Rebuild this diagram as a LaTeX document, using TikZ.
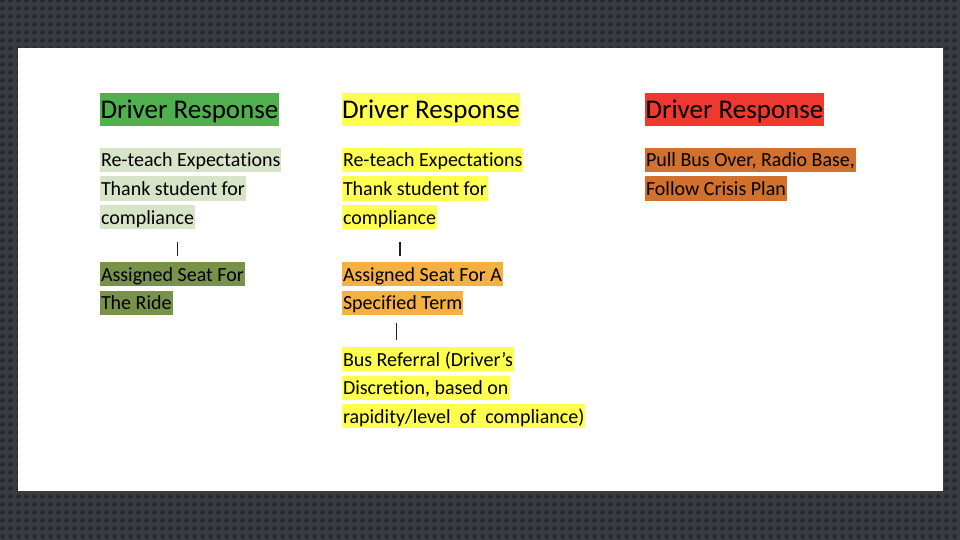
\documentclass[tikz,border=0pt]{standalone}
\usepackage{fontspec}
\setmainfont{Carlito}[Ligatures=NoCommon]
\usetikzlibrary{patterns.meta}
\definecolor{bgdark}{HTML}{383B40}
\definecolor{bgdot}{HTML}{26282C}
\definecolor{tgreen}{HTML}{50B050}
\definecolor{lgreen}{HTML}{D8E4C8}
\definecolor{olive}{HTML}{78924A}
\definecolor{hyellow}{HTML}{FFFF50}
\definecolor{horange}{HTML}{F4B040}
\definecolor{hred}{HTML}{EE3830}
\definecolor{hbrown}{HTML}{D2702E}
\definecolor{sepgray}{HTML}{222222}
\tikzdeclarepattern{
  name=bgdots,
  type=uncolored,
  bounding box={(0pt,0pt) and (8pt,8pt)},
  tile size={(8pt,8pt)},
  code={\fill (4pt,4pt) circle (2.4pt);}
}
\tikzset{
  titlebox/.style={anchor=base west, inner xsep=0.5pt, inner ysep=0pt, outer sep=0pt,
    text height=25.2pt, text depth=7.8pt, font=\fontsize{27}{32}\selectfont, text=black},
  bodybox/.style={anchor=base west, inner xsep=1pt, inner ysep=0pt, outer sep=0pt,
    text height=19pt, text depth=5.4pt, font=\fontsize{20}{24}\selectfont, text=black},
  sepline/.style={draw=sepgray, line width=1.5pt}
}
\begin{document}
\begin{tikzpicture}[x=1pt,y=-1pt]
\useasboundingbox (0,0) rectangle (960,540);
% textured background
\fill[bgdark] (0,0) rectangle (960,540);
\fill[pattern=bgdots, pattern color=bgdot] (0,0) rectangle (960,540);
% slide
\fill[white] (18,48) rectangle (943,491);

% green column
\node[titlebox, fill=tgreen] (gt) at (100,118.5) {Driver Response};
\node[bodybox, fill=lgreen] (g1) at (100,167) {Re-teach Expectations};
\node[bodybox, fill=lgreen] (g2) at (100,195.5) {Thank student for};
\node[bodybox, fill=lgreen] (g3) at (100,224) {compliance};
\node[bodybox, fill=olive] (g4) at (100,281) {Assigned Seat For};
\node[bodybox, fill=olive] (g5) at (100,309.5) {The Ride};
\coordinate (gsa) at (177.7,241.5);
\coordinate (gsb) at (177.7,256);
\draw[sepline] (gsa) -- (gsb);

% yellow column
\node[titlebox, fill=hyellow] (yt) at (341.5,118.5) {Driver Response};
\node[bodybox, fill=hyellow] (y1) at (342,167) {Re-teach Expectations};
\node[bodybox, fill=hyellow] (y2) at (342,195.5) {Thank student for};
\node[bodybox, fill=hyellow] (y3) at (342,224) {compliance};
\node[bodybox, fill=horange] (y4) at (342,281) {Assigned Seat For A};
\node[bodybox, fill=horange] (y5) at (342,309.5) {Specified Term};
\node[bodybox, fill=hyellow] (y6) at (342,366) {Bus Referral (Driver’s};
\node[bodybox, fill=hyellow] (y7) at (342,394.5) {Discretion, based on};
\node[bodybox, fill=hyellow] (y8) at (342,423) {rapidity/level\ \ of\ \ compliance)};
\coordinate (ysa) at (400,241.5);
\coordinate (ysb) at (400,256);
\draw[sepline] (ysa) -- (ysb);
\coordinate (ysc) at (396.7,323);
\coordinate (ysd) at (396.7,340);
\draw[sepline] (ysc) -- (ysd);

% red column
\node[titlebox, fill=hred] (rt) at (645,118.5) {Driver Response};
\node[bodybox, fill=hbrown] (r1) at (645,167) {Pull Bus Over, Radio Base,};
\node[bodybox, fill=hbrown] (r2) at (645,195.5) {Follow Crisis Plan};
\end{tikzpicture}
\end{document}
